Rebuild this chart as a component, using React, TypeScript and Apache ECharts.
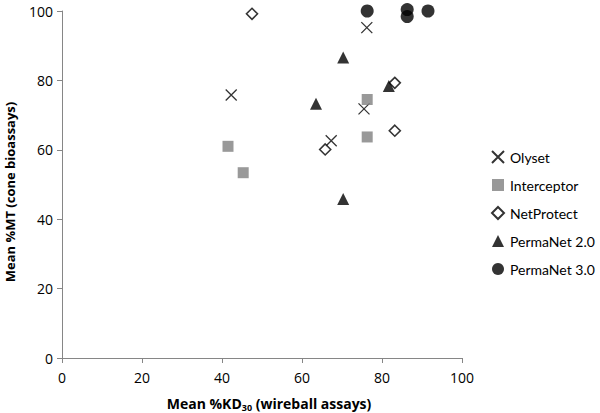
import React, { useEffect, useRef } from "react";
import * as echarts from "echarts";

const seriesNames = ["Olyset", "Interceptor", "NetProtect", "PermaNet 2.0", "PermaNet 3.0"];
const olyset: number[][] = [[42.3, 75.8], [76.2, 95.2], [75.5, 71.8], [67.3, 62.6]];
const interceptor: number[][] = [[41.5, 61.0], [45.3, 53.4], [76.3, 74.5], [76.3, 63.7]];
const netProtect: number[][] = [[47.5, 99.2], [83.2, 79.3], [83.2, 65.5], [65.8, 60.1]];
const permaNet2: number[][] = [[70.3, 86.6], [63.5, 73.3], [81.7, 78.4], [70.3, 45.8]];
const permaNet3: number[][] = [[76.3, 100.0], [86.3, 100.4], [86.3, 98.4], [91.5, 100.0]];
const xTicks = [0, 20, 40, 60, 80, 100];
const yTicks = [0, 20, 40, 60, 80, 100];
const xTitle = ["Mean %KD", "30", " (wireball assays)"];
const yTitle = "Mean %MT (cone bioassays)";

const FONT = "'Open Sans', 'Noto Sans', sans-serif";
const LEGEND_FONT = "Lato, 'Open Sans', sans-serif";

export default function App() {
  const ref = useRef<HTMLDivElement>(null);
  useEffect(() => {
    if (!ref.current) return;
    const chart = echarts.init(ref.current, undefined, { renderer: "svg" });
    const crossPath = "path://M0,0L10,10M10,0L0,10";
    chart.setOption({
      animation: false,
      backgroundColor: "#ffffff",
      textStyle: { fontFamily: FONT },
      grid: { left: 62, right: 138, top: 11, bottom: 55, containLabel: false },
      xAxis: {
        type: "value",
        min: xTicks[0],
        max: xTicks[xTicks.length - 1],
        interval: 20,
        splitLine: { show: false },
        axisLine: { onZero: false, lineStyle: { color: "#868686", width: 1 } },
        axisTick: { show: true, length: 5, lineStyle: { color: "#868686" } },
        axisLabel: { color: "#000", fontSize: 14, fontFamily: FONT, margin: 12 },
      },
      yAxis: {
        type: "value",
        min: yTicks[0],
        max: yTicks[yTicks.length - 1],
        interval: 20,
        splitLine: { show: false },
        axisLine: { show: true, lineStyle: { color: "#868686", width: 1 } },
        axisTick: { show: true, length: 5, lineStyle: { color: "#868686" } },
        axisLabel: { color: "#000", fontSize: 14, fontFamily: FONT, margin: 9 },
      },
      graphic: [
        {
          type: "text",
          x: 269,
          y: 403,
          style: {
            text: `{b|${xTitle[0]}}{s|${xTitle[1]}}{b|${xTitle[2]}}`,
            align: "center",
            verticalAlign: "middle",
            rich: {
              b: { fontSize: 14, fontWeight: "bold", fill: "#000", fontFamily: FONT },
              s: { fontSize: 9, fontWeight: "bold", fill: "#000", fontFamily: FONT, padding: [8, 0, 0, 0] },
            },
          },
        },
        {
          type: "text",
          x: 10,
          y: 192,
          rotation: Math.PI / 2,
          style: {
            text: yTitle,
            align: "center",
            verticalAlign: "middle",
            fontSize: 13,
            fontWeight: "bold",
            fill: "#000",
            fontFamily: FONT,
          },
        },
      ],
      legend: {
        orient: "vertical",
        left: 486,
        top: 145,
        itemWidth: 12,
        itemHeight: 12,
        itemGap: 14,
        textStyle: { fontSize: 14, color: "#000", fontFamily: LEGEND_FONT, padding: [0, 0, 0, 1] },
        data: seriesNames,
      },
      series: [
        {
          name: seriesNames[0],
          type: "scatter",
          clip: false,
          data: olyset,
          symbol: crossPath,
          symbolSize: 11,
          itemStyle: { color: "rgba(0,0,0,0)", borderColor: "#000", borderWidth: 1.3 },
        },
        {
          name: seriesNames[1],
          type: "scatter",
          clip: false,
          data: interceptor,
          symbol: "rect",
          symbolSize: 11,
          itemStyle: { color: "#808080" },
        },
        {
          name: seriesNames[2],
          type: "scatter",
          clip: false,
          data: netProtect,
          symbol: "diamond",
          symbolSize: 11,
          itemStyle: { color: "#ffffff", borderColor: "#000", borderWidth: 1.6 },
        },
        {
          name: seriesNames[3],
          type: "scatter",
          clip: false,
          data: permaNet2,
          symbol: "triangle",
          symbolSize: 12,
          itemStyle: { color: "#000" },
        },
        {
          name: seriesNames[4],
          type: "scatter",
          clip: false,
          data: permaNet3,
          symbol: "circle",
          symbolSize: 13,
          itemStyle: { color: "#000" },
        },
      ],
    });
    return () => chart.dispose();
  }, []);
  return <div ref={ref} style={{ width: 600, height: 413, position: "absolute", left: 0, top: 0 }} />;
}
